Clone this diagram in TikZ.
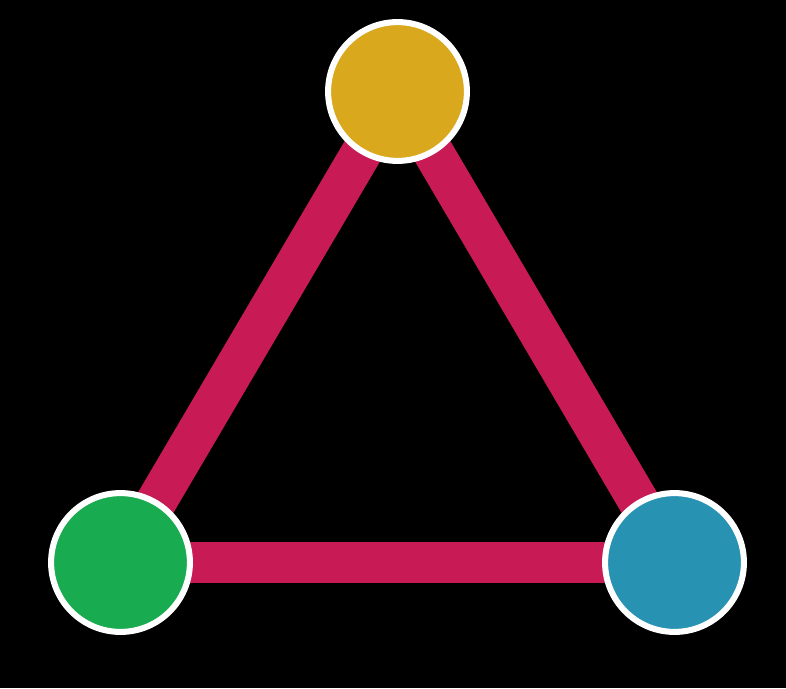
\documentclass[tikz,border=0pt]{standalone}
\usetikzlibrary{backgrounds}
\definecolor{edgered}{HTML}{C81B55}
\definecolor{topgold}{HTML}{DAA81C}
\definecolor{leftgreen}{HTML}{18AB50}
\definecolor{rightblue}{HTML}{2892B3}
\begin{document}
\begin{tikzpicture}[x=0.025cm,y=-0.025cm,
  vertex/.style={circle,draw=white,line width=4.3pt,minimum size=3.47cm,inner sep=0pt},
  link/.style={edgered,line width=1.02cm}]
\useasboundingbox (0,0) rectangle (786,688);
\node[vertex,fill=topgold] (top) at (397.5,91.5) {};
\node[vertex,fill=leftgreen] (left) at (120.5,562.5) {};
\node[vertex,fill=rightblue] (right) at (674.5,562.5) {};
\begin{pgfonlayer}{background}
\fill[black] (0,0) rectangle (786,688);
\draw[link] (top.center) -- (left.center) -- (right.center) -- cycle;
\end{pgfonlayer}
\end{tikzpicture}
\end{document}
